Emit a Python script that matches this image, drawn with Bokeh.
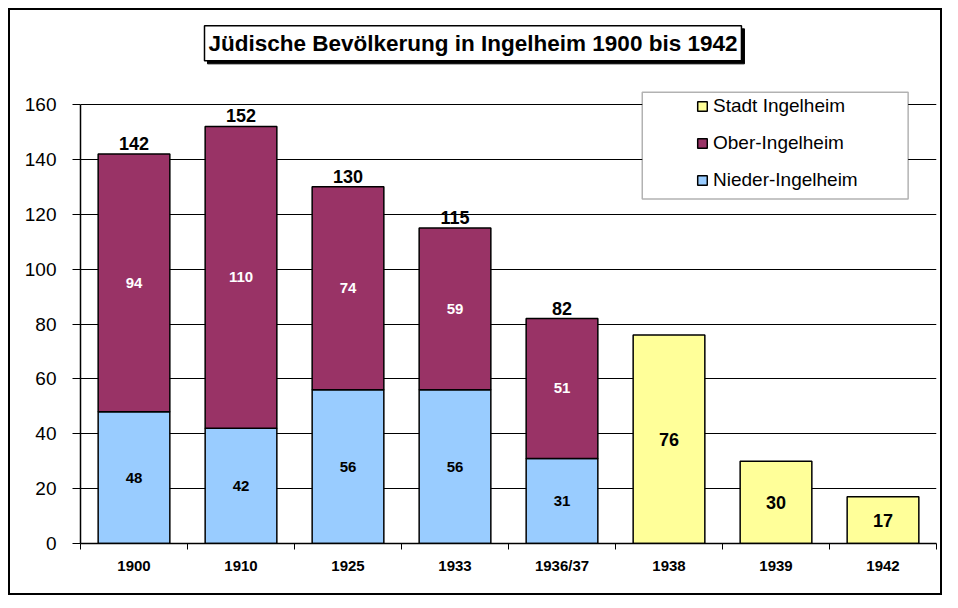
from bokeh.plotting import figure
from bokeh.models import (ColumnDataSource, Range1d, FixedTicker, Legend, LegendItem, Label,
                          BoxAnnotation)
from bokeh.core.properties import value
from bokeh.embed import file_html
from bokeh.resources import INLINE

# ---- data ----
years = ["1900", "1910", "1925", "1933", "1936/37", "1938", "1939", "1942"]
nieder_years = ["1900", "1910", "1925", "1933", "1936/37"]
nieder = [48, 42, 56, 56, 31]
ober = [94, 110, 74, 59, 51]
stadt_years = ["1938", "1939", "1942"]
stadt = [76, 30, 17]
y_ticks = [0, 20, 40, 60, 80, 100, 120, 140, 160]
title_text = "Jüdische Bevölkerung in Ingelheim 1900 bis 1942"
legend_labels = ["Stadt Ingelheim", "Ober-Ingelheim", "Nieder-Ingelheim"]

FONT = "Liberation Sans"
BLUE = "#99CCFF"
PURPLE = "#993366"
YELLOW = "#FFFF99"

# category slot centres on a numeric axis (slot i spans i..i+1)
centre = {y: i + 0.5 for i, y in enumerate(years)}
nx = [centre[y] for y in nieder_years]
sx = [centre[y] for y in stadt_years]
totals = [a + b for a, b in zip(nieder, ober)]

p = figure(x_range=Range1d(0, len(years)), y_range=Range1d(0, 195),
           width=950, height=603, output_backend="svg", toolbar_location=None,
           min_border_left=80, min_border_right=14, min_border_top=8, min_border_bottom=60,
           styles={"outline": "2px solid black", "outline-offset": "-10px"})
p.outline_line_color = None
p.background_fill_color = None
p.border_fill_color = None
p.xgrid.grid_line_color = None

# y axis
p.yaxis.ticker = FixedTicker(ticks=y_ticks)
p.yaxis.bounds = (0, 160)
p.yaxis.major_label_text_font = FONT
p.yaxis.major_label_text_font_size = "19px"
p.yaxis.major_label_text_color = "black"
p.yaxis.major_label_standoff = 16
p.yaxis.major_tick_out = 8
p.yaxis.major_tick_in = 0
p.yaxis.minor_tick_line_color = None
p.yaxis.axis_line_width = 1.5
p.yaxis.axis_line_color = "black"
p.yaxis.major_tick_line_color = "black"
p.ygrid.ticker = FixedTicker(ticks=y_ticks)
p.ygrid.grid_line_color = "black"
p.ygrid.grid_line_width = 1
p.ygrid.grid_line_alpha = 1

# x axis: labels at slot centres, tick marks at slot boundaries (minor ticks)
xa = p.xaxis[0]
xa.ticker = FixedTicker(ticks=list(centre.values()), minor_ticks=list(range(len(years) + 1)))
xa.major_label_overrides = {centre[y]: y for y in years}
xa.major_tick_out = 0
xa.major_tick_in = 0
xa.minor_tick_out = 6
xa.minor_tick_in = 0
xa.minor_tick_line_color = "black"
xa.minor_tick_line_width = 1
xa.axis_line_width = 1.5
xa.axis_line_color = "black"
xa.major_label_standoff = 7
xa.major_label_text_font = FONT
xa.major_label_text_font_style = "bold"
xa.major_label_text_font_size = "15px"
xa.major_label_text_color = "black"

# bars
src = ColumnDataSource(dict(x=nx, nieder=nieder, ober=ober))
r_nieder, r_ober = p.vbar_stack(["nieder", "ober"], x="x", width=0.67, source=src,
                                fill_color=[BLUE, PURPLE], line_color="black", line_width=1.5)
ssrc = ColumnDataSource(dict(x=sx, top=stadt))
r_stadt = p.vbar(x="x", top="top", width=0.67, source=ssrc, fill_color=YELLOW,
                 line_color="black", line_width=1.5)

# value labels
common = dict(text_align="center", text_font=value(FONT), text_font_style="bold")
p.text(x="x", y="y", text="t", text_baseline="middle", text_font_size="15px", text_color="black",
       source=ColumnDataSource(dict(x=nx, y=[v / 2 for v in nieder], t=[str(v) for v in nieder])),
       **common)
p.text(x="x", y="y", text="t", text_baseline="middle", text_font_size="15px", text_color="white",
       source=ColumnDataSource(dict(x=nx, y=[n + o / 2 for n, o in zip(nieder, ober)],
                                    t=[str(v) for v in ober])), **common)
p.text(x="x", y="y", text="t", text_baseline="bottom", text_font_size="18px", text_color="black",
       y_offset=-4,
       source=ColumnDataSource(dict(x=nx, y=totals, t=[str(v) for v in totals])), **common)
p.text(x="x", y="y", text="t", text_baseline="middle", text_font_size="18px", text_color="black",
       source=ColumnDataSource(dict(x=sx, y=[v / 2 for v in stadt], t=[str(v) for v in stadt])),
       **common)

# legend box + legend
box = BoxAnnotation(left=5.25, right=7.735, top=164.5, bottom=125.6, fill_color="white",
                    fill_alpha=1, line_color="black", line_width=1.5)
p.add_layout(box)
legend = Legend(items=[LegendItem(label=legend_labels[0], renderers=[r_stadt]),
                       LegendItem(label=legend_labels[1], renderers=[r_ober]),
                       LegendItem(label=legend_labels[2], renderers=[r_nieder])],
                location=(616, 352), orientation="vertical", padding=0, margin=0, spacing=15,
                glyph_width=12, glyph_height=12, label_height=20, label_standoff=5,
                label_text_font=FONT, label_text_font_size="19px", label_text_color="black",
                border_line_color=None, background_fill_alpha=0)
p.add_layout(legend, "center")

# title box with shadow
tkw = dict(x=3.668, y=182.3, text=title_text, text_align="center", text_baseline="middle",
           text_font=FONT, text_font_style="bold", text_font_size="22.5px", padding=(4, 5))
shadow = Label(text_color="black", background_fill_color="black", border_line_color="black",
               x_offset=3, y_offset=-3, **tkw)
title = Label(text_color="black", background_fill_color="white", border_line_color="black",
              border_line_width=1.5, **tkw)
p.add_layout(shadow)
p.add_layout(title)

open("out.html", "w").write(file_html(p, INLINE))
